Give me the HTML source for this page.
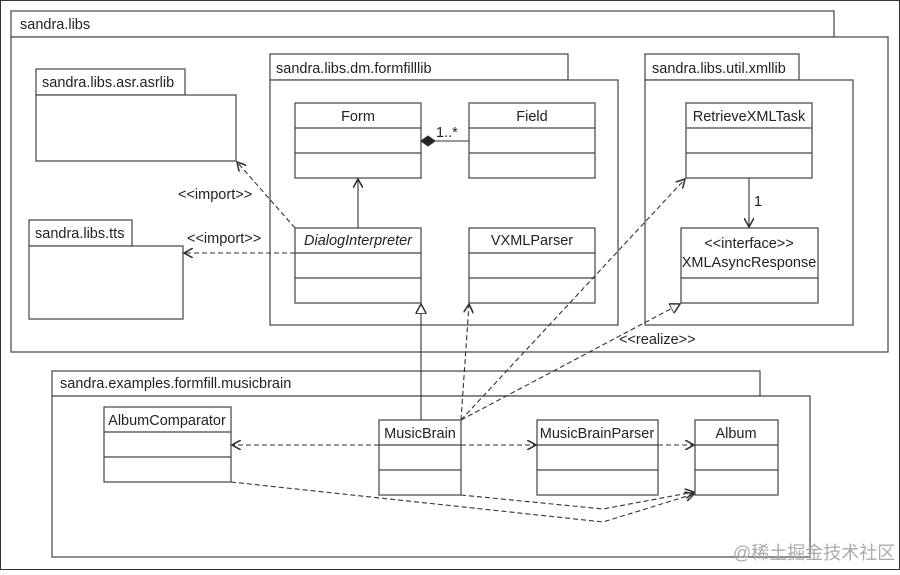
<!DOCTYPE html>
<html><head><meta charset="utf-8"><style>
html,body{margin:0;padding:0;background:#fff}
svg text{font-family:"Liberation Sans","Noto Sans CJK SC",sans-serif;font-size:14.5px;fill:#222}
</style></head><body>
<svg width="900" height="570" viewBox="0 0 900 570" xmlns="http://www.w3.org/2000/svg">
<defs>
<marker id="open" viewBox="0 0 10 10" refX="9" refY="5" markerWidth="10" markerHeight="10" markerUnits="userSpaceOnUse" orient="auto"><path d="M0,0 L9,5 L0,10" fill="none" stroke="#333" stroke-width="1.6"/></marker>
<marker id="tri" viewBox="0 0 10 10" refX="9" refY="5" markerWidth="11" markerHeight="11" markerUnits="userSpaceOnUse" orient="auto"><path d="M0,0 L9,5 L0,10 Z" fill="#fff" stroke="#333" stroke-width="1.4"/></marker>
</defs>
<rect x="0.5" y="0.5" width="899" height="569" fill="#fff" stroke="#333"/>
<g fill="#fff" stroke="#444" stroke-width="1.2">
<rect x="11" y="11" width="823" height="26"/>
<rect x="11" y="37" width="877" height="315"/>
<rect x="36" y="69" width="149" height="26"/>
<rect x="36" y="95" width="200" height="66"/>
<rect x="29" y="220" width="103" height="26"/>
<rect x="29" y="246" width="154" height="73"/>
<rect x="270" y="54" width="298" height="26"/>
<rect x="270" y="80" width="348" height="245"/>
<rect x="645" y="54" width="154" height="26"/>
<rect x="645" y="80" width="208" height="245"/>
<rect x="295" y="103" width="126" height="75"/><path d="M295 128H421M295 153H421"/>
<rect x="469" y="103" width="126" height="75"/><path d="M469 128H595M469 153H595"/>
<rect x="295" y="228" width="126" height="75"/><path d="M295 253H421M295 278H421"/>
<rect x="469" y="228" width="126" height="75"/><path d="M469 253H595M469 278H595"/>
<rect x="686" y="103" width="126" height="75"/><path d="M686 128H812M686 153H812"/>
<rect x="681" y="228" width="137" height="75"/><path d="M681 278H818"/>
<rect x="52" y="371" width="708" height="25"/>
<rect x="52" y="396" width="758" height="161"/>
<rect x="104" y="407" width="127" height="75"/><path d="M104 432H231M104 457H231"/>
<rect x="379" y="420" width="82" height="75"/><path d="M379 445H461M379 470H461"/>
<rect x="537" y="420" width="121" height="75"/><path d="M537 445H658M537 470H658"/>
<rect x="695" y="420" width="83" height="75"/><path d="M695 445H778M695 470H778"/>
</g>
<g>
<text x="20" y="29">sandra.libs</text>
<text x="42" y="87">sandra.libs.asr.asrlib</text>
<text x="35" y="238">sandra.libs.tts</text>
<text x="276" y="73">sandra.libs.dm.formfilllib</text>
<text x="652" y="73">sandra.libs.util.xmllib</text>
<text x="358" y="121" text-anchor="middle">Form</text>
<text x="532" y="121" text-anchor="middle">Field</text>
<text x="358" y="245" text-anchor="middle" font-style="italic">DialogInterpreter</text>
<text x="532" y="245" text-anchor="middle">VXMLParser</text>
<text x="749" y="121" text-anchor="middle">RetrieveXMLTask</text>
<text x="749" y="248" text-anchor="middle">&lt;&lt;interface&gt;&gt;</text>
<text x="749" y="267" text-anchor="middle">XMLAsyncResponse</text>
<text x="754" y="206">1</text>
<text x="436" y="137">1..*</text>
<text x="178" y="199">&lt;&lt;import&gt;&gt;</text>
<text x="187" y="243">&lt;&lt;import&gt;&gt;</text>
<text x="619" y="344">&lt;&lt;realize&gt;&gt;</text>
<text x="60" y="388">sandra.examples.formfill.musicbrain</text>
<text x="167" y="425" text-anchor="middle">AlbumComparator</text>
<text x="420" y="438" text-anchor="middle">MusicBrain</text>
<text x="597" y="438" text-anchor="middle">MusicBrainParser</text>
<text x="736" y="438" text-anchor="middle">Album</text>
<text x="733" y="559" style="fill:#aaa;font-size:18px">@稀土掘金技术社区</text>
</g>
<g fill="none" stroke="#333" stroke-width="1.1">
<path d="M469 141H435"/>
<path d="M421 141L428 136L435 141L428 146Z" fill="#222"/>
<path d="M358 228V179" marker-end="url(#open)"/>
<path d="M749 178V227" marker-end="url(#open)"/>
<path d="M421 420V304" marker-end="url(#tri)"/>
</g>
<g fill="none" stroke="#333" stroke-width="1.1" stroke-dasharray="5,3">
<path d="M295 228L237 162" marker-end="url(#open)"/>
<path d="M295 253H184" marker-end="url(#open)"/>
<path d="M461 420L469 304" marker-end="url(#open)"/>
<path d="M461 420L685 179" marker-end="url(#open)"/>
<path d="M461 420L680 304" marker-end="url(#tri)"/>
<path d="M379 445H232" marker-end="url(#open)"/>
<path d="M461 445H536" marker-end="url(#open)"/>
<path d="M658 445H694" marker-end="url(#open)"/>
<path d="M231 482L603 522L694 494" marker-end="url(#open)"/>
<path d="M461 495L603 509L694 492" marker-end="url(#open)"/>
</g>
</svg>
</body></html>
